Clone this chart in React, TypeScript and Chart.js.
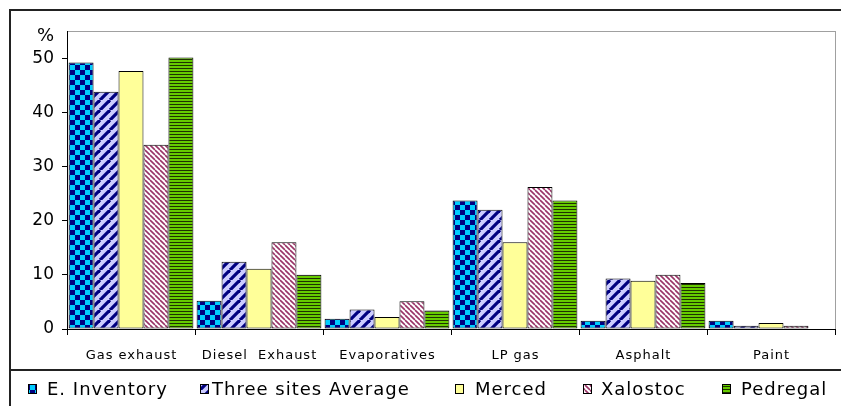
import React, { useEffect, useRef } from "react";
import { Chart, registerables } from "chart.js";

Chart.register(...registerables);

const categories = ["Gas exhaust", "Diesel  Exhaust", "Evaporatives", "LP gas", "Asphalt", "Paint"];
const seriesNames = ["E. Inventory", "Three sites Average", "Merced", "Xalostoc", "Pedregal"];
const eInventory = [49.2, 5.2, 1.9, 23.7, 1.5, 1.5];
const threeSites = [43.8, 12.4, 3.6, 22.0, 9.3, 0.6];
const merced = [47.6, 11.1, 2.2, 16.0, 8.9, 1.1];
const xalostoc = [34.0, 16.0, 5.1, 26.2, 10.0, 0.6];
const pedregal = [50.1, 10.0, 3.4, 23.7, 8.5, 0];
const yTicks = [0, 10, 20, 30, 40, 50];

function makePattern(kind: string): CanvasPattern | string {
  const c = document.createElement("canvas");
  const g = c.getContext("2d")!;
  if (kind === "checker") {
    c.width = 10; c.height = 10;
    g.fillStyle = "#00CCFF"; g.fillRect(0, 0, 10, 10);
    g.fillStyle = "#000080"; g.fillRect(0, 0, 5, 5); g.fillRect(5, 5, 5, 5);
  } else if (kind === "fwd") {
    c.width = 10; c.height = 10;
    g.fillStyle = "#CCCCFF"; g.fillRect(0, 0, 10, 10);
    g.strokeStyle = "#000080"; g.lineWidth = 3.2;
    for (let k = -10; k <= 20; k += 10) {
      g.beginPath(); g.moveTo(k, 10); g.lineTo(k + 10, 0); g.stroke();
    }
  } else if (kind === "back") {
    c.width = 5; c.height = 5;
    g.fillStyle = "#FFFFFF"; g.fillRect(0, 0, 5, 5);
    g.strokeStyle = "#993366"; g.lineWidth = 1.6;
    for (let k = -5; k <= 10; k += 5) {
      g.beginPath(); g.moveTo(k, 0); g.lineTo(k + 5, 5); g.stroke();
    }
  } else if (kind === "horiz") {
    c.width = 4; c.height = 3;
    g.fillStyle = "#66CC00"; g.fillRect(0, 0, 4, 3);
    g.fillStyle = "#1F3300"; g.fillRect(0, 2, 4, 1);
  } else {
    return "#FFFF99";
  }
  return g.createPattern(c, "repeat")!;
}

const framePlugin = {
  id: "frame",
  beforeDraw(chart: any) {
    const { ctx, chartArea } = chart;
    ctx.save();
    ctx.fillStyle = "#fff";
    ctx.fillRect(0, 0, chart.width, chart.height);
    ctx.strokeStyle = "#A0A0A0";
    ctx.lineWidth = 1;
    ctx.strokeRect(chartArea.left + 0.5, chartArea.top + 0.5, chartArea.right - chartArea.left, chartArea.bottom - chartArea.top);
    ctx.restore();
  },
  afterDraw(chart: any) {
    const { ctx, chartArea } = chart;
    ctx.save();
    ctx.strokeStyle = "#222";
    ctx.lineWidth = 2;
    ctx.beginPath();
    ctx.moveTo(10, 406); ctx.lineTo(10, 10); ctx.lineTo(841, 10);
    ctx.moveTo(10, 370); ctx.lineTo(841, 370);
    ctx.stroke();
    // % label
    ctx.fillStyle = "#000";
    ctx.font = "18px 'DejaVu Sans'";
    ctx.textAlign = "right";
    ctx.textBaseline = "middle";
    ctx.fillText("%", 54, chartArea.top + 5);
    // category labels
    const xs = chart.scales.x;
    ctx.font = "13px 'DejaVu Sans'";
    ctx.textAlign = "center";
    (ctx as any).letterSpacing = "1px";
    categories.forEach((lab, i) => {
      ctx.fillText(lab, xs.getPixelForTick(i) + 0.5, 356);
    });
    // legend
    const boxX = [28, 200, 455, 583, 722];
    const textX = [47, 212, 475, 601, 741];
    ctx.font = "18px 'DejaVu Sans'";
    ctx.textAlign = "left";
    (ctx as any).letterSpacing = "1px";
    chart.data.datasets.forEach((ds: any, i: number) => {
      ctx.fillStyle = ds.backgroundColor;
      ctx.fillRect(boxX[i], 384, 9, 10);
      ctx.strokeStyle = "#000";
      ctx.lineWidth = 1;
      ctx.strokeRect(boxX[i] + 0.5, 384.5, 8, 9);
      ctx.fillStyle = "#000";
      ctx.fillText(ds.label, textX[i], 390);
    });
    ctx.restore();
  },
};

export default function App() {
  const ref = useRef<HTMLCanvasElement>(null);
  useEffect(() => {
    document.body.style.margin = "0";
    const values = [eInventory, threeSites, merced, xalostoc, pedregal];
    const fills = ["checker", "fwd", "plain", "back", "horiz"].map(makePattern);
    const chart = new Chart(ref.current!, {
      type: "bar",
      data: {
        labels: categories,
        datasets: values.map((v, i) => ({
          label: seriesNames[i],
          data: v,
          backgroundColor: fills[i] as any,
          borderColor: "#000",
          borderWidth: 1,
          borderSkipped: false as any,
          categoryPercentage: 0.975,
          barPercentage: 1,
        })),
      },
      options: {
        responsive: false,
        animation: false,
        events: [],
        layout: { padding: { top: 31, right: 6, left: 0, bottom: 0 } },
        plugins: { legend: { display: false }, tooltip: { enabled: false } },
        scales: {
          x: {
            grid: { offset: true, drawOnChartArea: false, drawTicks: true, tickLength: 6, color: "#000" },
            border: { color: "#000", width: 1 },
            ticks: { display: false, autoSkip: false },
            afterFit(scale: any) { scale.height = 77; },
          },
          y: {
            min: 0,
            max: 55,
            afterBuildTicks(scale: any) {
              scale.ticks = yTicks.map((v) => ({ value: v }));
            },
            grid: { drawOnChartArea: false, drawTicks: true, tickLength: 5, color: "#000" },
            border: { color: "#000", width: 1 },
            ticks: {
              color: "#000",
              font: { family: "'DejaVu Sans'", size: 17 },
              padding: 8,
            },
            afterFit(scale: any) { scale.width = 67; },
          },
        },
      },
      plugins: [framePlugin],
    });
    return () => chart.destroy();
  }, []);
  return (
    <div style={{ position: "absolute", left: 0, top: 0, width: 841, height: 406 }}>
      <canvas ref={ref} width={841} height={406} />
    </div>
  );
}
